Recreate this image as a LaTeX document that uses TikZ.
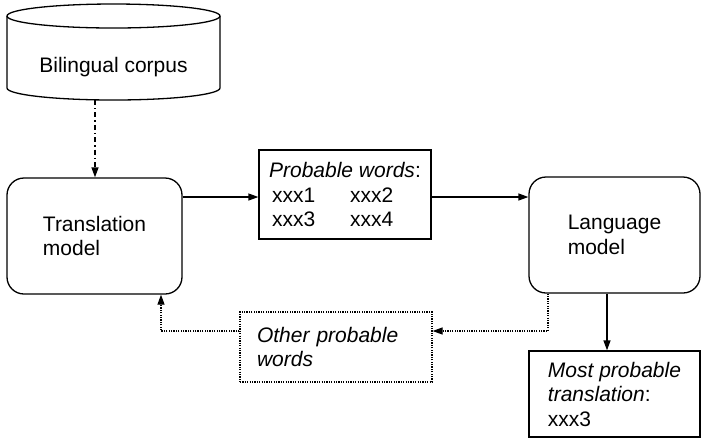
\documentclass[tikz,border=0pt]{standalone}
\usepackage{fontspec}
\setmainfont{Liberation Sans}
\usetikzlibrary{arrows.meta}
\begin{document}
\begin{tikzpicture}[x=0.5pt,y=-0.5pt,
  font=\fontsize{10.5pt}{12.25pt}\selectfont,
  line width=0.65pt,
  arr/.style={-{Triangle[length=5pt,width=3.5pt]}},
  model/.style={draw,rounded corners=8.5pt,minimum height=58pt,align=left,inner sep=0pt},
  wordbox/.style={draw,align=left,inner sep=0pt},
  dotline/.style={line width=0.6pt,dash pattern=on 0.6pt off 0.6pt},
  dashdotline/.style={dash pattern=on 2.5pt off 1.5pt on 0.7pt off 1.5pt}]
  \useasboundingbox (0,0) rectangle (702,447);

  % bilingual corpus drawn as a cylinder
  \draw (7,16) -- (7,88) arc[start angle=180,end angle=360,x radius=53.25pt,y radius=6pt] -- (220,16);
  \draw (113.5,16) ellipse [x radius=53.25pt,y radius=6pt];
  \node (corpus) at (113.5,67.5) {Bilingual corpus};
  \coordinate (cb) at (95,100);

  % the two models
  \node[model,minimum width=87.5pt] (trans) at (94.5,236) {Translation\\model};
  \node[model,minimum width=85.5pt] (lang) at (614.5,235) {Language\\model};

  % word lists
  \node[wordbox,minimum width=86pt,minimum height=44.5pt] (prob) at (345,194.5)
    {\textit{Probable words}:\\
     \hspace*{1.5pt}\makebox[39pt][l]{xxx1}xxx2\\
     \hspace*{1.5pt}\makebox[39pt][l]{xxx3}xxx4};
  \node[wordbox,minimum width=85.5pt,minimum height=43pt] (most) at (614.5,394)
    {\textit{Most probable}\\\textit{translation}:\\xxx3};
  \node[wordbox,dotline,text width=79pt,inner xsep=8.5pt,minimum height=35pt] (other) at (336,347)
    {\textit{Other probable}\\\textit{words}};

  % connectors
  \draw[arr,dashdotline] (cb) -- (cb |- trans.north);
  \coordinate (hy) at (0,197);
  \draw[arr] (trans.east |- hy) -- (prob.west |- hy);
  \draw[arr] (prob.east |- hy) -- (lang.west |- hy);
  \coordinate (dx) at (607,0);
  \draw[arr] (lang.south -| dx) -- (most.north -| dx);
  \coordinate (fb) at (548,331);
  \draw[arr,dotline] (lang.south -| fb) -- (fb) -- (other.east |- fb);
  \coordinate (fl) at (161,331);
  \draw[arr,dotline] (other.west |- fl) -- (fl) -- (trans.south -| fl);
\end{tikzpicture}
\end{document}
